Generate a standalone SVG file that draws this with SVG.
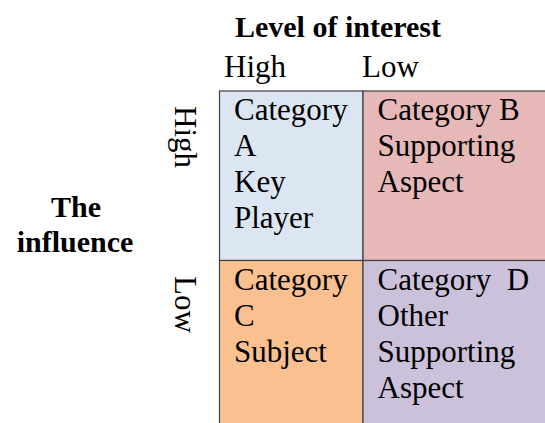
<svg xmlns="http://www.w3.org/2000/svg" width="545" height="423" viewBox="0 0 545 423">
<style>
.t{font-family:"Liberation Serif","Times New Roman",serif;font-size:31px;fill:#000;white-space:pre}
.b{font-weight:bold;font-size:30px}
.cell{stroke:#404040;stroke-width:1.2}
</style>
<rect width="545" height="423" fill="#fff"/>
<g id="header">
<text class="t b" x="338" y="37" text-anchor="middle">Level of interest</text>
<text class="t" x="224" y="77">High</text>
<text class="t" x="362" y="77">Low</text>
</g>
<g id="side">
<text class="t b" x="76" y="217" text-anchor="middle">The</text>
<text class="t b" x="75" y="252" text-anchor="middle">influence</text>
<text class="t" transform="translate(175,106) rotate(90)">High</text>
<text class="t" transform="translate(175,276) rotate(90)">Low</text>
</g>
<g id="cellA">
<rect class="cell" x="219.5" y="91" width="143.5" height="169.5" fill="#dce6f2"/>
<text class="t" x="234" y="120">Category</text>
<text class="t" x="234" y="156">A</text>
<text class="t" x="234" y="192">Key</text>
<text class="t" x="234" y="228">Player</text>
</g>
<g id="cellB">
<rect class="cell" x="363" y="91" width="183" height="169.5" fill="#e6b9b8"/>
<text class="t" x="377.5" y="120">Category B</text>
<text class="t" x="377.5" y="156">Supporting</text>
<text class="t" x="377.5" y="192">Aspect</text>
</g>
<g id="cellC">
<rect class="cell" x="219.5" y="260.5" width="143.5" height="164" fill="#fac090"/>
<text class="t" x="234" y="290">Category</text>
<text class="t" x="234" y="326">C</text>
<text class="t" x="234" y="362">Subject</text>
</g>
<g id="cellD">
<rect class="cell" x="363" y="260.5" width="183" height="164" fill="#ccc1da"/>
<text class="t" x="377.5" y="290">Category  D</text>
<text class="t" x="377.5" y="326">Other</text>
<text class="t" x="377.5" y="362">Supporting</text>
<text class="t" x="377.5" y="398">Aspect</text>
</g>
<g id="connectors"/>
</svg>
